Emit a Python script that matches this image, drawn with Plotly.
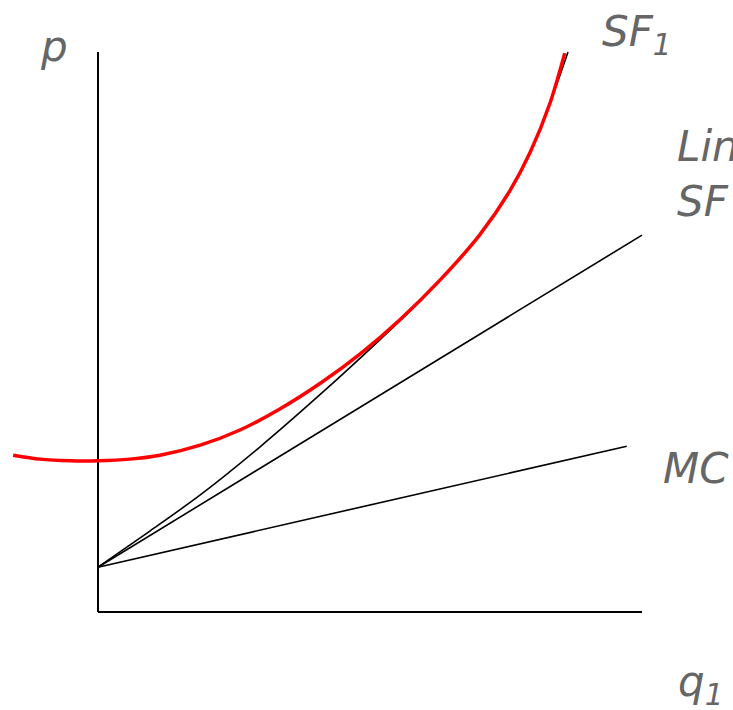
import plotly.graph_objects as go

# Data (q in axis units 0..10, p in axis units 0..10)
mc_q = [0.0, 9.72]
mc_p = [0.80, 2.96]

lin_q = [0.0, 10.0]
lin_p = [0.80, 6.73]

sf1_q = [0.0, 0.96, 1.88, 2.98, 4.08, 5.18, 5.92, 6.29, 7.02, 7.57, 7.94, 8.31, 8.64]
sf1_p = [0.80, 1.45, 2.09, 2.95, 3.88, 4.86, 5.55, 5.93, 6.74, 7.52, 8.20, 9.09, 10.0]

red_q = [-1.56, -1.07, -0.51, 0.0, 0.59, 1.14, 1.88, 2.61, 3.35, 4.08, 4.82, 5.55, 6.29, 7.02, 7.57, 7.94, 8.31, 8.58]
red_p = [2.80, 2.73, 2.70, 2.70, 2.73, 2.80, 2.98, 3.25, 3.63, 4.08, 4.61, 5.22, 5.93, 6.74, 7.52, 8.20, 9.09, 9.98]

axis_x_q = [0.0, 10.0]
axis_x_p = [0.0, 0.0]
axis_y_q = [0.0, 0.0]
axis_y_p = [0.0, 10.0]

W, H = 733, 710
X0, Y0 = 98, 612
SX, SY = 54.4, 56.0

fig = go.Figure()
fig.add_trace(go.Scatter(x=axis_y_q, y=axis_y_p, mode="lines", line=dict(color="black", width=2), hoverinfo="skip"))
fig.add_trace(go.Scatter(x=axis_x_q, y=axis_x_p, mode="lines", line=dict(color="black", width=2), hoverinfo="skip"))
fig.add_trace(go.Scatter(x=mc_q, y=mc_p, mode="lines", line=dict(color="black", width=1.6)))
fig.add_trace(go.Scatter(x=lin_q, y=lin_p, mode="lines", line=dict(color="black", width=1.6)))
fig.add_trace(go.Scatter(x=sf1_q, y=sf1_p, mode="lines", line=dict(color="black", width=1.6, shape="spline", smoothing=0.8)))
fig.add_trace(go.Scatter(x=red_q, y=red_p, mode="lines", line=dict(color="#ff0000", width=3.5, shape="spline", smoothing=0.8)))

font = dict(family="DejaVu Sans", size=42, color="#666666")

def lab(text, px, py):
    return dict(text=text, xref="paper", yref="paper", x=px / W, y=1 - py / H,
                xanchor="left", yanchor="middle", showarrow=False, font=font, align="left")

fig.update_layout(
    width=W, height=H,
    margin=dict(l=0, r=0, t=0, b=0),
    paper_bgcolor="white", plot_bgcolor="white",
    showlegend=False,
    xaxis=dict(range=[-X0 / SX, (W - X0) / SX], visible=False, fixedrange=True),
    yaxis=dict(range=[-(H - Y0) / SY, Y0 / SY], visible=False, fixedrange=True),
    annotations=[
        lab("<i>p</i>", 38, 46),
        lab("<i>SF<sub>1</sub></i>", 600, 34),
        lab("<i>Linear<br>SF</i>", 675, 174),
        lab("<i>MC</i>", 661, 468),
        lab("<i>q<sub>1</sub></i>", 676, 684),
    ],
)

fig.write_html("out.html", config={"displayModeBar": False},
               post_script="document.body.style.margin='0';document.body.style.overflow='hidden';")
